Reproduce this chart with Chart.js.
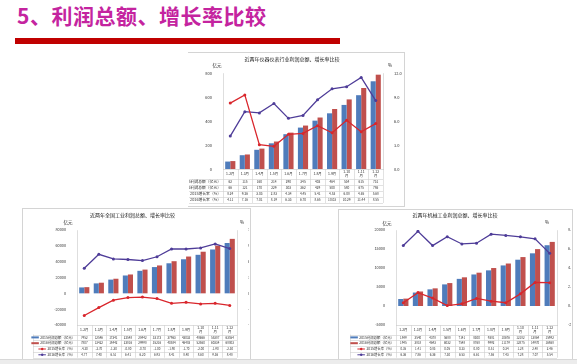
<!DOCTYPE html>
<html>
<head>
<meta charset="utf-8">
<script src="https://cdn.jsdelivr.net/npm/chart.js@4.4.1/dist/chart.umd.min.js"></script>
<style>
  body { margin: 0; width: 577px; height: 364px; background: #fff; position: relative; overflow: hidden;
         font-family: "Noto Sans CJK SC", "Noto Sans", sans-serif; }
  #title { position: absolute; left: 17px; top: 0px; font-size: 21px; font-weight: bold; color: #c4249f; letter-spacing: 0.5px; }
  #rule { position: absolute; left: 15px; top: 38px; width: 325px; height: 6px; background: #c00000; }
  .frame { position: absolute; border: 1px solid #d4d4d4; }
  canvas { position: absolute; }
  #foot { position: absolute; left: 0; top: 359px; width: 577px; height: 5px; background: #ececec; border-top: 1px solid #d8d8d8; }
</style>
</head>
<body>
<div id="title">5、利润总额、增长率比较</div>
<div id="rule"></div>

<div class="frame" style="left:188px;top:52px;width:216px;height:153px;border-left:none"></div>
<div class="frame" style="left:22px;top:208px;width:227px;height:152px"></div>
<div class="frame" style="left:338px;top:209px;width:233px;height:151px"></div>
<div id="foot"></div>

<canvas id="inst" width="216" height="152" style="left:189px;top:53px"></canvas>
<canvas id="ind" width="225" height="150" style="left:24px;top:209px"></canvas>
<canvas id="mach" width="232" height="149" style="left:339px;top:210px"></canvas>

<script>
const cats = ['1-2月','1-3月','1-4月','1-5月','1-6月','1-7月','1-8月','1-9月','1-10月','1-11月','1-12月'];
const rowNames = ['2015利润总额（亿元）','2016利润总额（亿元）','2015增长率（%）','2016增长率（%）'];

// 仪器仪表行业
const instProfit2015 = [62, 115, 160, 214, 290, 345, 403, 464, 534, 615, 731];
const instProfit2016 = [66, 121, 170, 229, 303, 362, 429, 500, 580, 675, 786];
const instGrowth2015 = [8.24, 9.26, 3.03, 2.83, 4.34, 4.45, 5.41, 4.53, 6.08, 4.65, 5.68];
const instGrowth2016 = [4.11, 7.16, 7.01, 8.19, 6.33, 6.70, 8.65, 10.03, 10.29, 11.44, 8.55];

// 全国工业
const indProfit2015 = [7452, 12546, 17341, 22548, 28442, 33173, 37963, 43032, 48666, 55387, 63554];
const indProfit2016 = [7807, 13422, 18442, 23816, 29998, 35216, 40584, 46483, 52560, 60334, 68803];
const indGrowth2015 = [-4.20, -2.70, -1.30, -0.80, -0.70, -1.00, -1.90, -1.70, -2.00, -1.90, -2.30];
const indGrowth2016 = [4.77, 7.40, 6.51, 6.41, 6.20, 6.93, 8.41, 8.40, 8.60, 9.36, 8.48];

// 机械工业
const machProfit2015 = [1849, 3540, 4378, 5688, 7141, 8300, 9381, 10676, 12182, 13864, 15992];
const machProfit2016 = [1945, 3818, 4643, 6032, 7548, 8768, 9992, 11179, 12875, 14970, 16868];
const machGrowth2015 = [0.35, 1.41, 0.83, 0.05, 0.23, 0.80, 0.51, 0.34, 1.28, 2.48, 2.46];
const machGrowth2016 = [6.36, 7.86, 6.36, 7.30, 6.53, 6.61, 7.56, 7.43, 7.28, 7.07, 5.54];

const FONT = '"Noto Sans CJK SC", "Noto Sans", sans-serif';
const BLUE = '#4f7cbb', RED = '#c0504d', LINE15 = '#d9262c', LINE16 = '#4e3c98';
Chart.defaults.font.family = FONT;
Chart.defaults.color = '#333';

// chart title, unit labels and the data table under the plot
const extras = {
  id: 'extras',
  afterDraw(chart, args, o) {
    const { ctx, chartArea: a, scales: { x } } = chart;
    const ds = chart.data.datasets;
    const n = chart.data.labels.length;
    const cw = (a.right - a.left) / n;
    ctx.save();
    ctx.fillStyle = '#222';
    ctx.textBaseline = 'middle';
    ctx.textAlign = 'center';
    ctx.font = `${o.titleSize}px ${FONT}`;
    ctx.fillText(o.title, chart.width / 2 + (o.titleDx || 0), a.top + o.titleDy);
    ctx.font = `${o.unitSize}px ${FONT}`;
    ctx.fillText('亿元', a.left + o.unitL[0], a.top + o.unitL[1]);
    ctx.fillText('%', a.right + o.unitR[0], a.top + o.unitR[1]);

    const yCat = a.bottom + o.catH;
    const yEnd = yCat + ds.length * o.rowH;
    const hx = a.left - o.hdrW;
    ctx.strokeStyle = '#cfcfcf';
    ctx.lineWidth = 0.6;
    ctx.beginPath();
    for (let i = 0; i <= n; i++) {
      const xx = Math.round(a.left + i * cw) + 0.5;
      ctx.moveTo(xx, a.bottom); ctx.lineTo(xx, yEnd);
    }
    for (let r = 0; r <= ds.length; r++) {
      const yy = Math.round(yCat + r * o.rowH) + 0.5;
      ctx.moveTo(hx, yy); ctx.lineTo(a.right, yy);
    }
    ctx.moveTo(hx + 0.5, yCat); ctx.lineTo(hx + 0.5, yEnd);
    ctx.stroke();

    // category row
    ctx.fillStyle = '#333';
    ctx.font = `${o.catSize}px ${FONT}`;
    chart.data.labels.forEach((lab, i) => {
      const cx = x.getPixelForValue(i);
      const cy = a.bottom + o.catH / 2;
      if (lab.length > 4) {
        ctx.fillText(lab.slice(0, -1), cx, cy - o.catSize * 0.55);
        ctx.fillText('月', cx, cy + o.catSize * 0.6);
      } else {
        ctx.fillText(lab, cx, cy);
      }
    });

    // data rows
    ctx.font = `${o.cellSize}px ${FONT}`;
    ds.forEach((d, r) => {
      const cy = yCat + (r + 0.5) * o.rowH;
      d.data.forEach((v, i) => {
        ctx.fillText(r < 2 ? String(v) : v.toFixed(2), x.getPixelForValue(i), cy);
      });
      // row header with legend key
      ctx.textAlign = 'left';
      ctx.font = `${o.hdrSize}px ${FONT}`;
      const tx = a.left - 2 - ctx.measureText(d.label).width;
      ctx.fillText(d.label, tx, cy);
      const col = d.type === 'line' ? d.borderColor : d.backgroundColor;
      ctx.fillStyle = col;
      if (d.type === 'line') {
        ctx.strokeStyle = col; ctx.lineWidth = 1;
        ctx.beginPath(); ctx.moveTo(tx - 9, cy); ctx.lineTo(tx - 1.5, cy); ctx.stroke();
        ctx.beginPath(); ctx.arc(tx - 5.2, cy, 1.2, 0, Math.PI * 2); ctx.fill();
      } else {
        ctx.fillRect(tx - 9, cy - 1, 7.5, 2);
      }
      ctx.fillStyle = '#333';
      ctx.textAlign = 'center';
      ctx.font = `${o.cellSize}px ${FONT}`;
    });
    ctx.restore();
  }
};

function makeChart(id, c) {
  return new Chart(document.getElementById(id), {
    type: 'bar',
    data: {
      labels: cats,
      datasets: [
        { label: rowNames[0], data: c.p15, backgroundColor: BLUE, yAxisID: 'y', order: 2 },
        { label: rowNames[1], data: c.p16, backgroundColor: RED, yAxisID: 'y', order: 2 },
        { type: 'line', label: rowNames[2], data: c.g15, yAxisID: 'y2', borderColor: LINE15, backgroundColor: LINE15,
          borderWidth: 1.3, pointRadius: 1.5, pointBorderWidth: 0, order: 1 },
        { type: 'line', label: rowNames[3], data: c.g16, yAxisID: 'y2', borderColor: LINE16, backgroundColor: LINE16,
          borderWidth: 1.3, pointRadius: 1.5, pointBorderWidth: 0, order: 1 }
      ]
    },
    options: {
      responsive: false,
      animation: false,
      events: [],
      layout: { padding: { top: c.top, left: 0, right: 0, bottom: 0 } },
      datasets: { bar: { categoryPercentage: 0.7, barPercentage: 1 } },
      plugins: { legend: { display: false }, tooltip: { enabled: false }, extras: c.extras },
      scales: {
        x: {
          grid: { display: false },
          border: { color: '#c8c8c8', width: 0.6 },
          ticks: { display: false },
          afterFit: s => { s.height = c.bottom; }
        },
        y: {
          min: c.y[0], max: c.y[1],
          grid: { display: false },
          border: { color: '#c8c8c8', width: 0.6 },
          ticks: { stepSize: c.y[2], padding: 3, font: { size: c.tick }, color: '#333',
                   callback: v => String(v) },
          afterFit: s => { s.width = c.left; }
        },
        y2: {
          position: 'right',
          min: c.y2[0], max: c.y2[1],
          grid: { display: false },
          border: { color: '#c8c8c8', width: 0.6 },
          ticks: { stepSize: c.y2[2], padding: 3, font: { size: c.tick }, color: '#333',
                   callback: v => v.toFixed(1) },
          afterFit: s => { s.width = c.right; }
        }
      }
    },
    plugins: [extras]
  });
}

makeChart('inst', {
  p15: instProfit2015, p16: instProfit2016, g15: instGrowth2015, g16: instGrowth2016,
  y: [0, 800, 200], y2: [0, 12, 3],
  top: 20, left: 34, right: 22, bottom: 36, tick: 4,
  extras: { title: '近两年仪器仪表行业利润总额、增长率比较', titleSize: 5, titleDy: -14, titleDx: -5,
            unitSize: 4.5, unitL: [-6, -8], unitR: [7, -8],
            catH: 10, rowH: 6, catSize: 3.4, cellSize: 3.2, hdrSize: 3.8, hdrW: 50 }
});

makeChart('ind', {
  p15: indProfit2015, p16: indProfit2016, g15: indGrowth2015, g16: indGrowth2016,
  y: [-40000, 80000, 20000], y2: [-6, 12, 3],
  top: 21, left: 53, right: 12, bottom: 34, tick: 3.8,
  extras: { title: '近两年全国工业利润总额、增长率比较', titleSize: 5, titleDy: -15, titleDx: -4,
            unitSize: 4.5, unitL: [-9, -8], unitR: [5, -8],
            catH: 9.5, rowH: 5.8, catSize: 3.4, cellSize: 3, hdrSize: 3.4, hdrW: 44 }
});

makeChart('mach', {
  p15: machProfit2015, p16: machProfit2016, g15: machGrowth2015, g16: machGrowth2016,
  y: [-5000, 20000, 5000], y2: [-2, 8, 2],
  top: 20, left: 57, right: 14, bottom: 34, tick: 3.8,
  extras: { title: '近两年机械工业利润总额、增长率比较', titleSize: 5, titleDy: -15, titleDx: 0,
            unitSize: 4.5, unitL: [-9, -7], unitR: [-10, -8],
            catH: 9.5, rowH: 5.8, catSize: 3.4, cellSize: 3, hdrSize: 3.4, hdrW: 46 }
});
</script>
</body>
</html>
